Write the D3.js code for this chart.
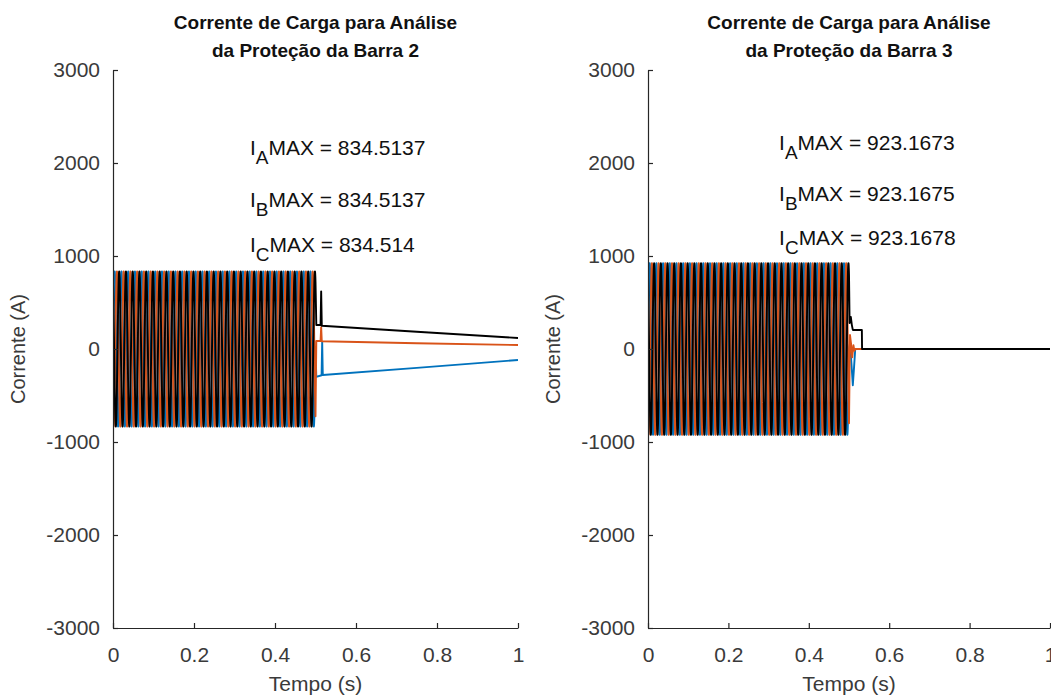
<!DOCTYPE html>
<html>
<head>
<meta charset="utf-8">
<script src="https://cdn.jsdelivr.net/npm/d3@7"></script>
<style>
  html, body { margin: 0; padding: 0; background: #fff; }
  svg { display: block; font-family: "Liberation Sans", Arial, Helvetica, sans-serif; }
</style>
</head>
<body>
<svg id="chart" width="1051" height="697"></svg>
<script>
// ---- Data ----------------------------------------------------------------
const panelTitles = [
  ["Corrente de Carga para Análise", "da Proteção da Barra 2"],
  ["Corrente de Carga para Análise", "da Proteção da Barra 3"]
];
const phaseNames = ["A", "B", "C"];
const phaseShiftDeg = [0, -120, 120];          // phase angle of A, B, C
const freqHz = 60;                              // system frequency
const clearTime = 0.5;                          // end of the steady-state load current (s)

// Peak load currents (A) per phase, bus 2 and bus 3
const peakBarra2 = [834.5137, 834.5137, 834.514];
const peakBarra3 = [923.1673, 923.1675, 923.1678];

// Current after t = 0.5 s, as [time (s), current (A)] breakpoints
const tailBarra2A = [[0.502, -300], [0.515, -282], [0.5165, 75], [0.518, -280], [0.75, -203], [1.0, -118]];
const tailBarra2B = [[0.502, 86], [0.5125, 86], [0.514, 235], [0.5155, 84], [0.75, 62], [1.0, 43]];
const tailBarra2C = [[0.502, 258], [0.5125, 258], [0.514, 620], [0.5155, 250], [0.75, 185], [1.0, 118]];

const tailBarra3A = [[0.5025, 60], [0.506, -150], [0.5095, -390], [0.5125, -200], [0.5155, 0], [1.0, 0]];
const tailBarra3B = [[0.5025, 150], [0.505, 60], [0.508, -90], [0.511, 40], [0.5135, -20], [0.5155, 0], [1.0, 0]];
const tailBarra3C = [[0.5015, 280], [0.5045, 345], [0.507, 260], [0.5095, 205], [0.532, 205], [0.5325, 0], [1.0, 0]];

const xTicks = [0, 0.2, 0.4, 0.6, 0.8, 1];
const yTicks = [-3000, -2000, -1000, 0, 1000, 2000, 3000];

const phaseColors = ["#0072BD", "#D95319", "#000000"];

// ---- Series construction -------------------------------------------------
// Steady-state sinusoid of each phase up to the clearing instant
function steadyWave(peak, shiftDeg) {
  const dt = 1 / (freqHz * 64);
  const pts = [];
  const n = Math.round(clearTime / dt);
  for (let i = 0; i <= n; i++) {
    const t = i * dt;
    pts.push([t, peak * Math.sin(2 * Math.PI * freqHz * t + shiftDeg * Math.PI / 180)]);
  }
  return pts;
}

const panels = [
  {
    titles: panelTitles[0],
    peaks: peakBarra2,
    tails: [tailBarra2A, tailBarra2B, tailBarra2C],
    left: 113, right: 518,
    labelT: 0.338, labelY: [155, 207, 252],
    showYLabel: true
  },
  {
    titles: panelTitles[1],
    peaks: peakBarra3,
    tails: [tailBarra3A, tailBarra3B, tailBarra3C],
    left: 648, right: 1050,
    labelT: 0.326, labelY: [150, 201, 245],
    showYLabel: true
  }
];

const svg = d3.select("#chart");
const plotTop = 70, plotBottom = 628;
const axisColor = "#262626";
const textGray = "#3a3a3a";
const fmtY = d => String(d);   // plain hyphen for negatives

panels.forEach((p, pi) => {
  const x = d3.scaleLinear().domain([0, 1]).range([p.left, p.right]);
  const y = d3.scaleLinear().domain([-3000, 3000]).range([plotBottom, plotTop]);

  const g = svg.append("g");

  const clipId = "clip" + pi;
  svg.append("clipPath").attr("id", clipId)
    .append("rect").attr("x", p.left).attr("y", plotTop)
    .attr("width", p.right - p.left).attr("height", plotBottom - plotTop);

  const line = d3.line().x(d => x(d[0])).y(d => y(d[1]));

  const plot = g.append("g").attr("clip-path", `url(#${clipId})`);
  p.peaks.forEach((peak, k) => {
    const series = steadyWave(peak, phaseShiftDeg[k]).concat(p.tails[k]);
    plot.append("path")
      .datum(series)
      .attr("fill", "none")
      .attr("stroke", phaseColors[k])
      .attr("stroke-width", 1.9)
      .attr("stroke-linejoin", "round")
      .attr("d", line);
  });

  // Axes: left and bottom, ticks pointing inward
  const xAxis = d3.axisBottom(x).tickValues(xTicks).tickSizeInner(-5).tickSizeOuter(0)
    .tickPadding(19).tickFormat(d3.format("~g"));
  const yAxis = d3.axisLeft(y).tickValues(yTicks).tickSizeInner(-5).tickSizeOuter(0)
    .tickPadding(13).tickFormat(fmtY);

  const gx = g.append("g").attr("transform", `translate(0,${plotBottom})`).call(xAxis);
  const gy = g.append("g").attr("transform", `translate(${p.left},0)`).call(yAxis);
  [gx, gy].forEach(a => {
    a.select(".domain").attr("stroke", axisColor).attr("stroke-width", 1.2);
    a.selectAll(".tick line").attr("stroke", axisColor).attr("stroke-width", 1.2);
    a.selectAll(".tick text").attr("fill", textGray).attr("font-size", 21)
      .attr("font-family", "'Liberation Sans', Arial, sans-serif");
  });
  gx.selectAll(".tick text").attr("dy", "0.71em");

  // Titles
  const cx = (p.left + p.right) / 2;
  g.append("text").attr("x", cx).attr("y", 29).attr("text-anchor", "middle")
    .attr("font-weight", "bold").attr("font-size", 19).attr("fill", "#111")
    .text(p.titles[0]);
  g.append("text").attr("x", cx).attr("y", 57).attr("text-anchor", "middle")
    .attr("font-weight", "bold").attr("font-size", 19).attr("fill", "#111")
    .text(p.titles[1]);

  // Axis labels
  g.append("text").attr("x", cx).attr("y", 691).attr("text-anchor", "middle")
    .attr("font-size", 21).attr("fill", textGray).text("Tempo (s)");
  if (p.showYLabel) {
    g.append("text")
      .attr("transform", `translate(${p.left - 88},${y(0)}) rotate(-90)`)
      .attr("text-anchor", "middle")
      .attr("font-size", 20).attr("fill", textGray).text("Corrente (A)");
  }

  // Peak current annotations
  p.peaks.forEach((peak, k) => {
    const t = g.append("text").attr("x", x(p.labelT)).attr("y", p.labelY[k])
      .attr("font-size", 21).attr("fill", "#111");
    t.append("tspan").text("I");
    t.append("tspan").attr("dy", 9).attr("font-size", 19).text(phaseNames[k]);
    t.append("tspan").attr("dy", -9).text("MAX = " + String(peak));
  });
});
</script>
</body>
</html>
